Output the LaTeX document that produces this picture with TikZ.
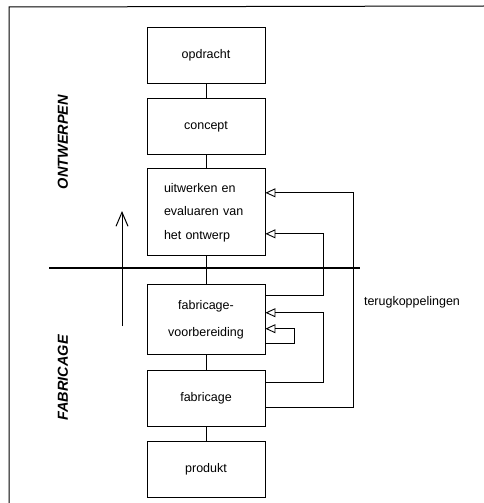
\documentclass[tikz,border=0pt]{standalone}
\usepackage{fontspec}
\setmainfont{Liberation Sans}
\usepackage{tikz}
\usetikzlibrary{positioning,calc,arrows.meta}

\begin{document}
\begin{tikzpicture}[
    x=1pt, y=1pt,
    node distance=15pt,
    every node/.style={font=\fontsize{12.5}{23.5}\selectfont},
    box/.style={rectangle, draw=black, line width=0.9pt, minimum width=118pt, minimum height=56pt, inner sep=2pt, align=center},
    phase/.style={rotate=90, font=\fontsize{14.5}{16}\selectfont\bfseries\itshape},
    link/.style={line width=0.9pt},
    feedback/.style={line width=0.9pt, -{Triangle[open, length=10pt, width=9pt]}},
    divider/.style={line width=1.3pt},
    updir/.style={line width=1pt, -{Straight Barb[length=14pt, width=12pt]}},
]

% Frame
\useasboundingbox (0,0) rectangle (484,-503);
\draw[line width=1pt] (484,-6) -- (9,-7) -- (9,-503);

% Process chain
\node[box] (opdracht) at (206,-55) {opdracht};
\node[box, below=of opdracht] (concept) {concept};
\node[box, below=13pt of concept, minimum height=87pt, text width=84pt, align=left] (uitw) {uitwerken en\\evaluaren van\\het ontwerp};
\node[box, below=28pt of uitw, minimum height=70pt] (voor) {fabricage-\\[3pt]voorbereiding};
\node[box, below=of voor] (fab) {fabricage};
\node[box, below=14pt of fab] (produkt) {produkt};

% Links
\draw[link] (opdracht) -- (concept);
\draw[link] (concept) -- (uitw);
\draw[link] (uitw) -- (voor);
\draw[link] (voor) -- (fab);
\draw[link] (fab) -- (produkt);

% Phase split
\draw[divider] (49,-268) -- (360,-268);
\draw[updir] (122,-326) -- (122,-211);
\node[phase] (ontwerpen) at (63,-142) {ONTWERPEN};
\node[phase] (fabricage) at (63,-378) {FABRICAGE};

% Feedback loops
\draw[feedback] ([yshift=-9pt]fab.east) -- ++(88pt,0) |- ([yshift=19.5pt]uitw.east);
\draw[feedback] ([yshift=24pt]voor.east) -- ++(58pt,0) |- ([yshift=-21.5pt]uitw.east);
\draw[feedback] ([yshift=16pt]fab.east) -- ++(58pt,0) |- ([yshift=7pt]voor.east);
\draw[feedback] ([yshift=-24pt]voor.east) -- ++(29pt,0) |- ([yshift=-9pt]voor.east);
\node (terug) at (412,-302) {terugkoppelingen};

\end{tikzpicture}
\end{document}
